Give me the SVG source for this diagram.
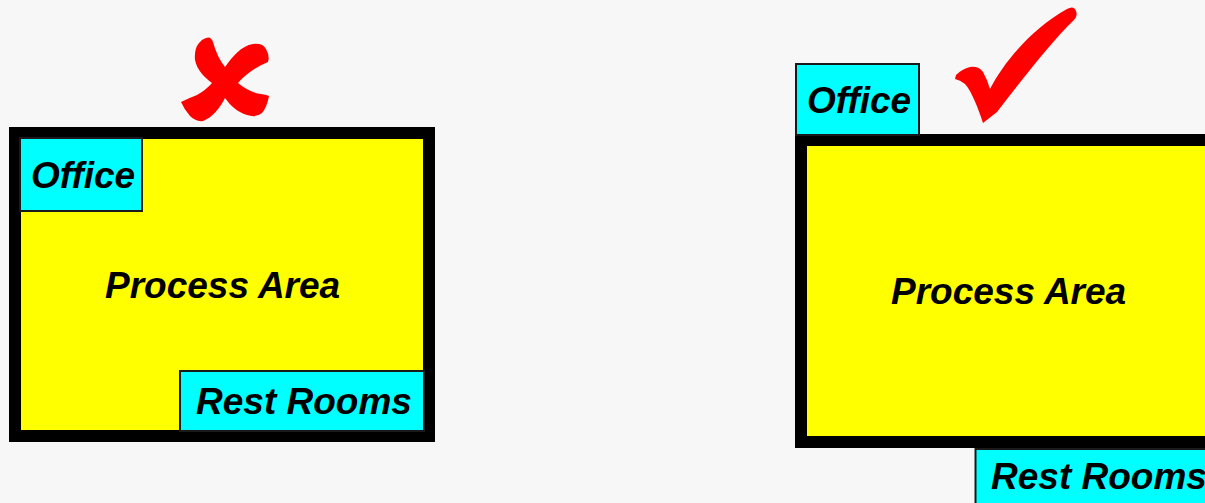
<svg xmlns="http://www.w3.org/2000/svg" width="1205" height="503" viewBox="0 0 1205 503">
  <style>
    .wall { fill: #ffff00; stroke: #000000; stroke-width: 12; }
    .room { fill: #00ffff; stroke: #1a1a1a; stroke-width: 2; }
    .lbl { font-family: "Liberation Sans", Arial, sans-serif; font-weight: bold; font-style: italic; font-size: 37px; fill: #000000; }
    .mark { fill: #ff0000; }
  </style>
  <rect x="0" y="0" width="1205" height="503" fill="#f7f7f7"/>

  <g id="bad-layout">
    <g id="bad-process-area">
      <rect class="wall" x="15" y="133" width="414" height="303"/>
      <text class="lbl" x="105" y="298">Process Area</text>
    </g>
    <g id="bad-office">
      <rect class="room" x="20" y="138" width="122" height="73"/>
      <text class="lbl" x="31" y="188">Office</text>
    </g>
    <g id="bad-rest-rooms">
      <rect class="room" x="180" y="371" width="244" height="60"/>
      <text class="lbl" x="196" y="414">Rest Rooms</text>
    </g>
    <path id="cross" class="mark" d="M 206,38 Q 211,36 213,42 Q 217,57 225,67 C 233,56 241,46 253,44 Q 263,43 266,49 Q 270,56 268,62 Q 258,66 250,72 Q 242,78 238,83 C 245,89 253,93 261,94 Q 267,95 269,96 Q 267,107 262,113 Q 256,118 247,115 C 237,112 230,105 225,98 C 220,108 213,117 203,121 Q 196,122 190,116 Q 184,109 181,102 Q 189,98 197,95 Q 206,90 212,83 C 204,77 197,70 195,60 Q 194,49 199,43 Q 202,39 206,38 Z"/>
  </g>

  <g id="good-layout">
    <g id="good-process-area">
      <rect class="wall" x="801" y="140" width="420" height="302"/>
      <text class="lbl" x="891" y="304">Process Area</text>
    </g>
    <g id="good-office">
      <rect class="room" x="796" y="64" width="123" height="71"/>
      <text class="lbl" x="807" y="113">Office</text>
    </g>
    <g id="good-rest-rooms">
      <rect class="room" x="975.5" y="449" width="260" height="70" stroke-width="2.5"/>
      <text class="lbl" x="991" y="489">Rest Rooms</text>
    </g>
    <path id="check" class="mark" d="M 990,89 C 1006,58 1036,26 1067,9 Q 1074,5 1076,11 Q 1078,16 1074,20 C 1050,43 1022,80 997,112 L 983,123 C 978,108 972,92 965,84 Q 960,80 955,79 L 956,75 Q 962,69 970,67 Q 979,66 983,72 Q 987,79 990,89 Z"/>
  </g>
</svg>
